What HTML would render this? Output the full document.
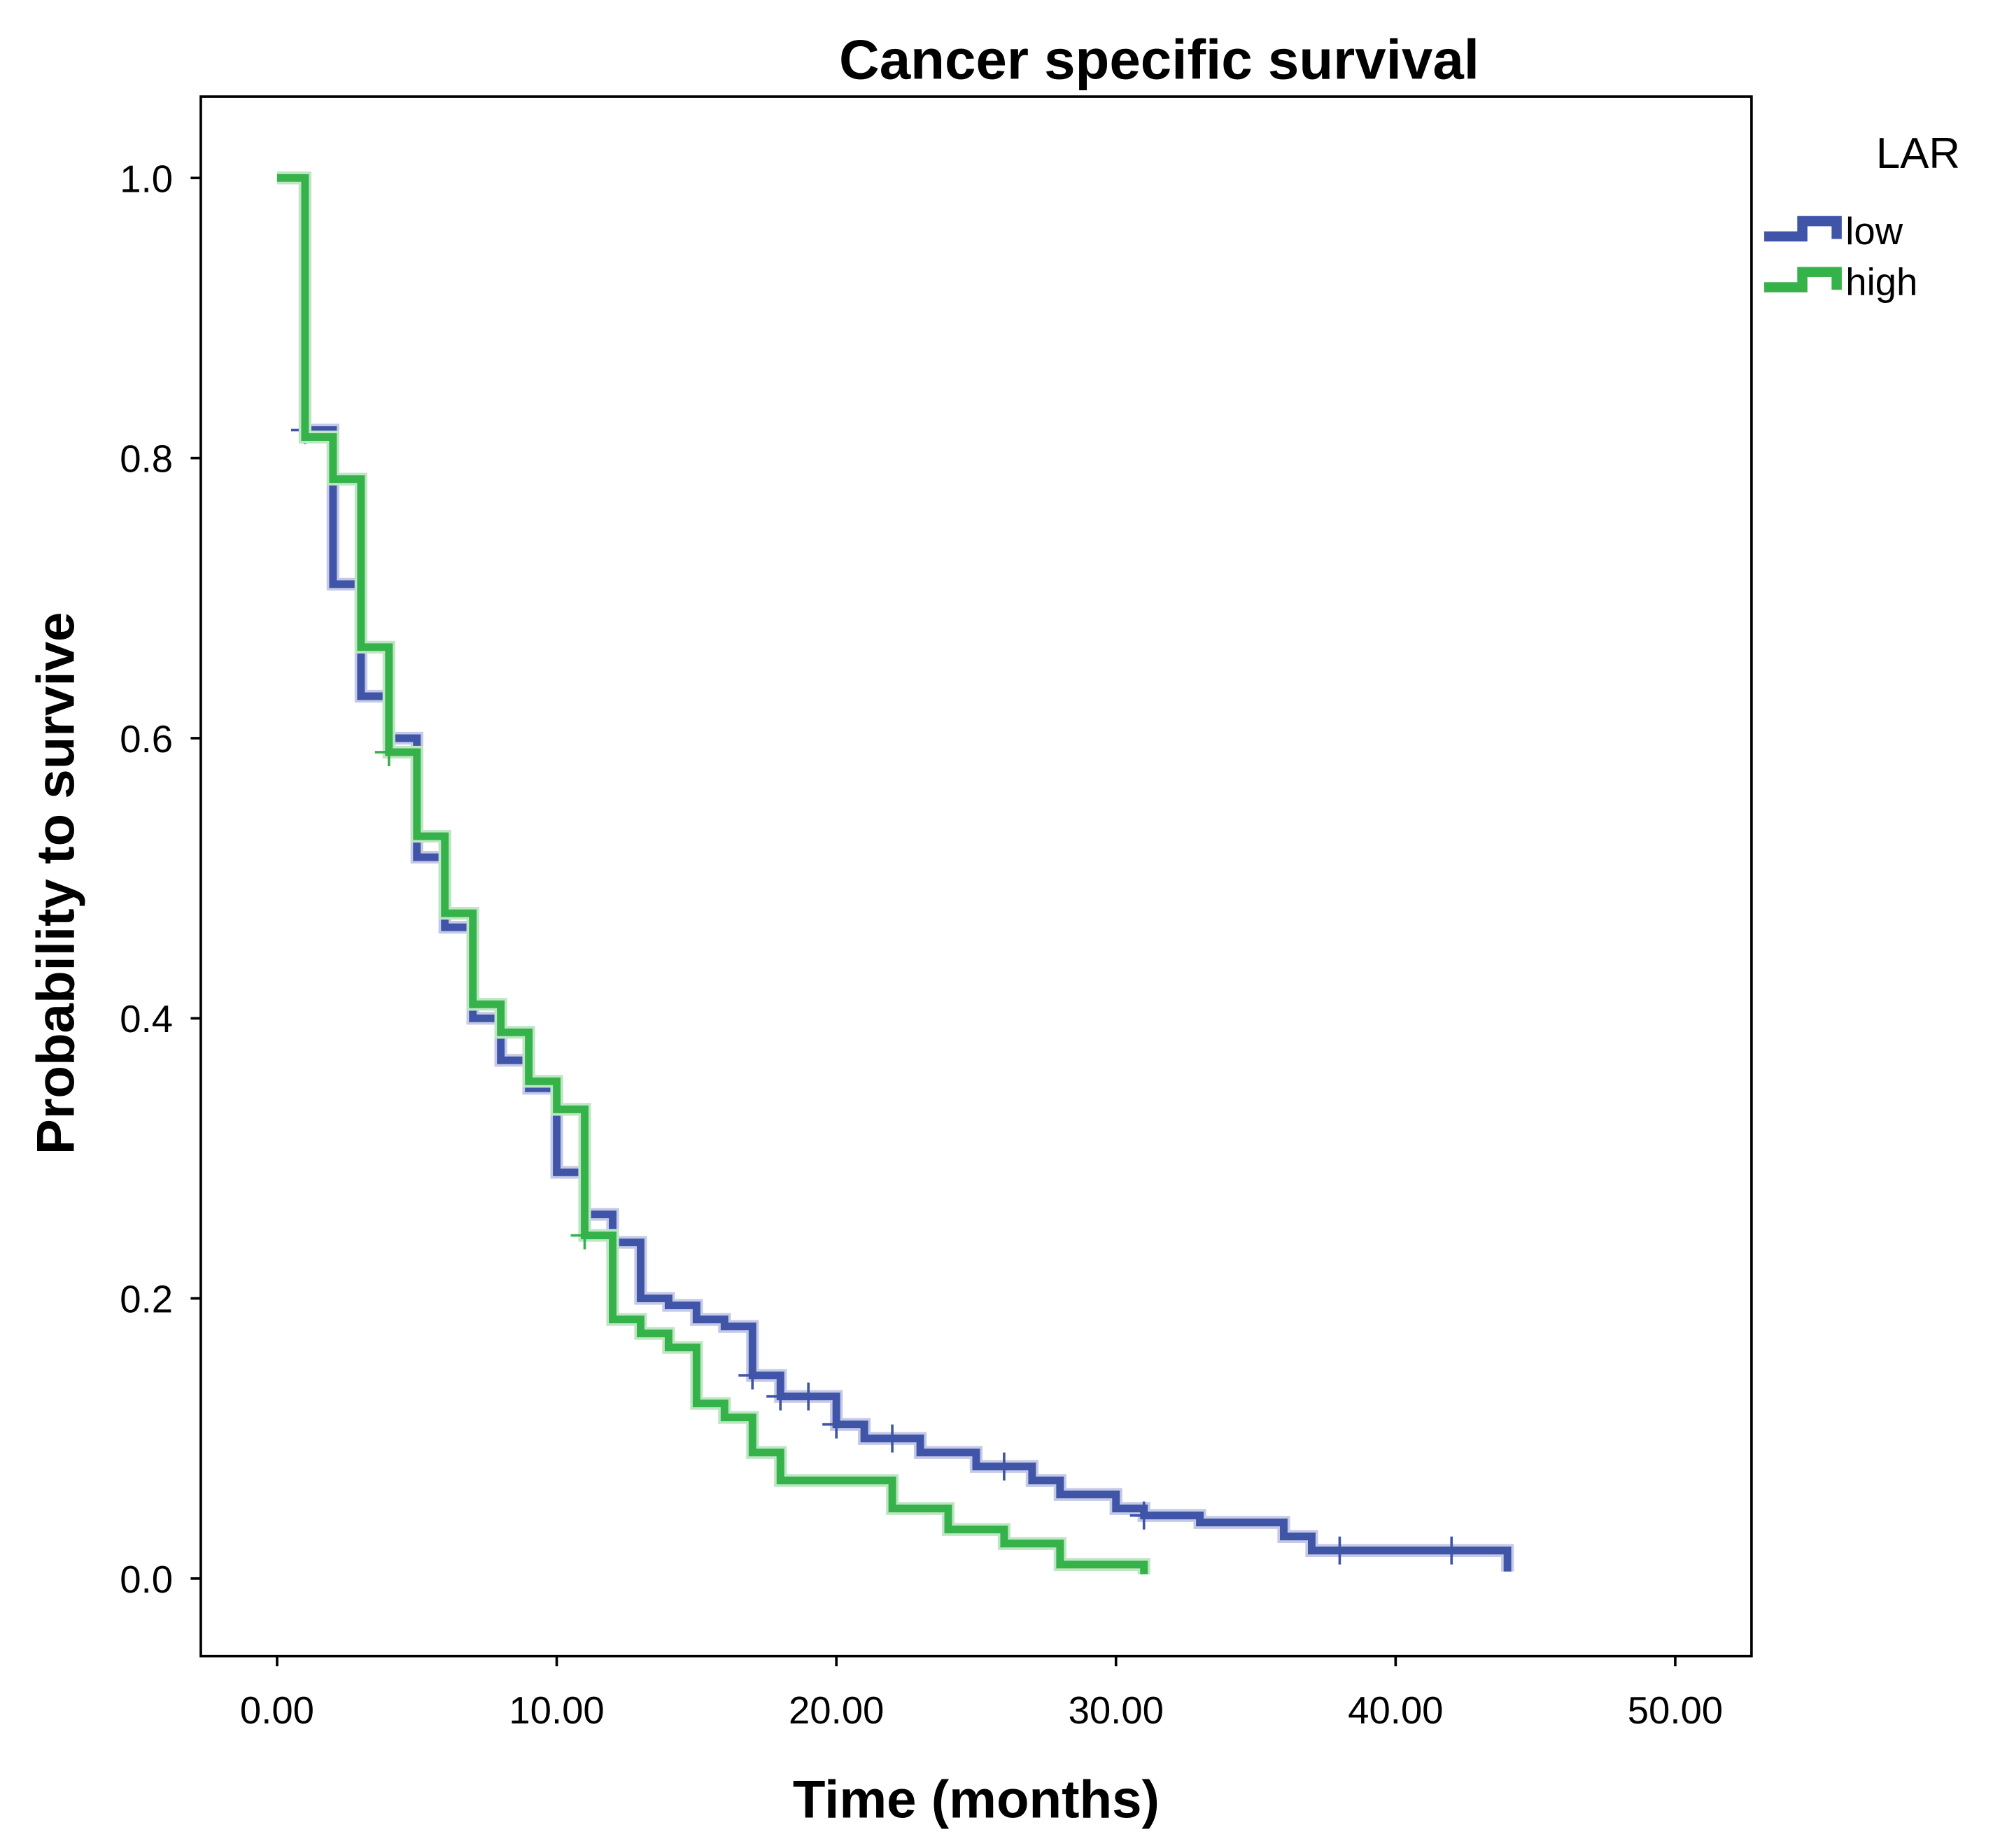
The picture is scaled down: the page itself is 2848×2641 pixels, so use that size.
<!DOCTYPE html>
<html><head><meta charset="utf-8"><style>
html,body{margin:0;padding:0;background:#fff;}
svg{display:block;font-family:"Liberation Sans",sans-serif;}
</style></head><body>
<svg id="chart" width="2848" height="2641" viewBox="0 0 1568 1454">
<rect x="0" y="0" width="1568" height="1454" fill="#fff"/>
<text x="912" y="62" text-anchor="middle" font-size="44" font-weight="bold" fill="#000">Cancer specific survival</text>
<rect x="158" y="76" width="1220" height="1227" fill="none" stroke="#000" stroke-width="2"/>
<g id="axes"></g>
<g id="series"></g>
<text x="768" y="1430" text-anchor="middle" font-size="42" font-weight="bold">Time (months)</text>
<text transform="translate(58,695) rotate(-90)" text-anchor="middle" font-size="42" font-weight="bold">Probability to survive</text>
<text x="1476" y="132" font-size="34">LAR</text>
<g>
<path d="M1388 186 H1418 V174 H1445 V188" fill="none" stroke="#4055a8" stroke-width="8"/>
<text x="1452" y="192" font-size="30">low</text></g>
<g>
<path d="M1388 226 H1418 V214 H1445 V228" fill="none" stroke="#36b24a" stroke-width="8"/>
<text x="1452" y="232" font-size="30">high</text></g>
</svg>
<script>
const xTicks=[0,10,20,30,40,50];
const xTickLabels=["0.00","10.00","20.00","30.00","40.00","50.00"];
const yTicks=[0,0.2,0.4,0.6,0.8,1.0];
const yTickLabels=["0.0","0.2","0.4","0.6","0.8","1.0"];
const lowTimes=[0,1,2,3,4,5,6,7,8,9,10,11,12,13,14,15,16,17,18,20,21,23,25,27,28,30,31,33,36,37,44];
const lowSurv=[1.0,0.82,0.71,0.63,0.60,0.515,0.465,0.40,0.37,0.35,0.29,0.26,0.24,0.20,0.195,0.185,0.18,0.145,0.13,0.11,0.10,0.09,0.08,0.07,0.06,0.05,0.045,0.04,0.03,0.02,0.005];
const lowCensor=[1,17,18,19,20,22,26,31,38,42];
const highTimes=[0,1,2,3,4,5,6,7,8,9,10,11,12,13,14,15,16,17,18,22,24,26,28,31];
const highSurv=[1.0,0.815,0.785,0.665,0.59,0.53,0.475,0.41,0.39,0.355,0.335,0.245,0.185,0.175,0.165,0.125,0.115,0.09,0.07,0.05,0.035,0.025,0.01,0.003];
const highCensor=[4,11];
const NS="http://www.w3.org/2000/svg";
const X=t=>218+t*22;
const Y=p=>1242-p*1102;
const axes=document.getElementById('axes');
function mk(tag,attrs,parent){const e=document.createElementNS(NS,tag);for(const k in attrs)e.setAttribute(k,attrs[k]);parent.appendChild(e);return e;}
xTicks.forEach((t,i)=>{
  const l=mk('line',{x1:X(t),x2:X(t),y1:1303,y2:1311,stroke:'#000','stroke-width':2},axes);
  
  
  const tx=mk('text',{x:X(t),y:1356,'text-anchor':'middle','font-size':30},axes);
  tx.textContent=xTickLabels[i];
  
  
});
yTicks.forEach((p,i)=>{
  const l=mk('line',{x1:150,x2:158,y1:Y(p),y2:Y(p),stroke:'#000','stroke-width':2},axes);
  
  
  const tx=mk('text',{x:136,y:Y(p)+11,'text-anchor':'end','font-size':30},axes);
  tx.textContent=yTickLabels[i];
  
  
});
function survAt(times,surv,t){let v=surv[0];for(let i=0;i<times.length;i++){if(times[i]<=t)v=surv[i];}return v;}
function drawSeries(times,surv,cens,color,halo,name){
  const g=mk('g',{},document.getElementById('series'));
  
  
  let d='M'+X(times[0])+' '+Y(surv[0]);
  for(let i=1;i<times.length;i++){d+=' H'+X(times[i])+' V'+Y(surv[i]);}
  mk('path',{d:d,fill:'none',stroke:halo,'stroke-width':10},g);
  mk('path',{d:d,fill:'none',stroke:color,'stroke-width':6},g);
  cens.forEach(t=>{
    const y=Y(survAt(times,surv,t));
    const c=mk('path',{d:'M'+X(t)+' '+(y-11)+' V'+(y+11)+' M'+(X(t)-11)+' '+y+' H'+(X(t)+11),stroke:color,'stroke-width':2,fill:'none'},g);
    
    
  });
}
drawSeries(lowTimes,lowSurv,lowCensor,'#4055a8','#c3c9e6','low');
drawSeries(highTimes,highSurv,highCensor,'#36b24a','#bfe6c4','high');
</script>
</body></html>
